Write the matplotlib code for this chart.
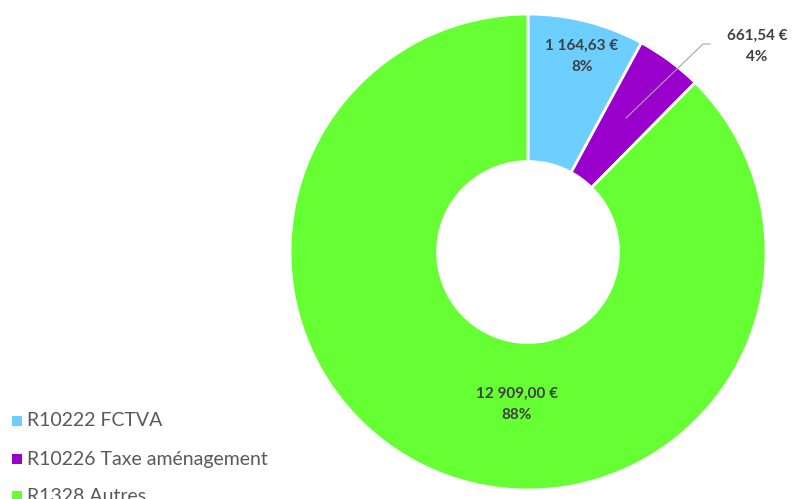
import matplotlib.pyplot as plt
from matplotlib.patches import Rectangle

labels = ['R10222 FCTVA', 'R10226 Taxe aménagement', 'R1328 Autres']
values = [1164.63, 661.54, 12909.00]
value_texts = ['1 164,63 €', '661,54 €', '12 909,00 €']
pct_texts = ['8%', '4%', '88%']
colors = ['#6DCFFF', '#9900CC', '#66FF33']

plt.rcParams['font.family'] = ['Lato', 'DejaVu Sans']

W, H = 794, 499
fig = plt.figure(figsize=(W / 100, H / 100), dpi=100)

# donut: center (528, 252) px, radius 238 px
cx, cy, r = 528, 252, 238
ax = fig.add_axes([(cx - r) / W, (H - cy - r) / H, 2 * r / W, 2 * r / H])
wedges, _ = ax.pie(values, colors=colors, startangle=90, counterclock=False,
                   radius=1, wedgeprops=dict(width=0.62, edgecolor='white', linewidth=2))
ax.set_xlim(-1, 1)
ax.set_ylim(-1, 1)
ax.set_aspect('equal')
ax.axis('off')

def to_data(px, py):
    return (px - cx) / r, (cy - py) / r

lab_style = dict(ha='center', va='center', fontsize=11, fontweight='bold',
                 color='#404040', linespacing=1.65)

# data labels
x, y = to_data(582, 56)
ax.text(x, y, value_texts[0] + '\n' + pct_texts[0], **lab_style)
x, y = to_data(757, 46)
ax.text(x, y, value_texts[1] + '\n' + pct_texts[1], clip_on=False, **lab_style)
x, y = to_data(517, 404)
ax.text(x, y, value_texts[2] + '\n' + pct_texts[2], **lab_style)

# leader line for small slice
p0 = to_data(626, 118)
p1 = to_data(703, 44)
p2 = to_data(710, 44)
ax.plot([p0[0], p1[0], p2[0]], [p0[1], p1[1], p2[1]], color='#A6A6A6',
        linewidth=0.8, clip_on=False)

# legend, drawn in figure pixel coordinates (last entry cut by the edge, as in the source)
legend_y = [421, 459, 496]
for lab, col, ly in zip(labels, colors, legend_y):
    fig.patches.append(Rectangle((12 / W, (H - ly - 5) / H), 10 / W, 10 / H,
                                 transform=fig.transFigure, facecolor=col,
                                 edgecolor='none'))
    fig.text(27 / W, (H - ly) / H, lab, ha='left', va='center',
             fontsize=14, color='#595959')

fig.savefig('out.png', dpi=100)
